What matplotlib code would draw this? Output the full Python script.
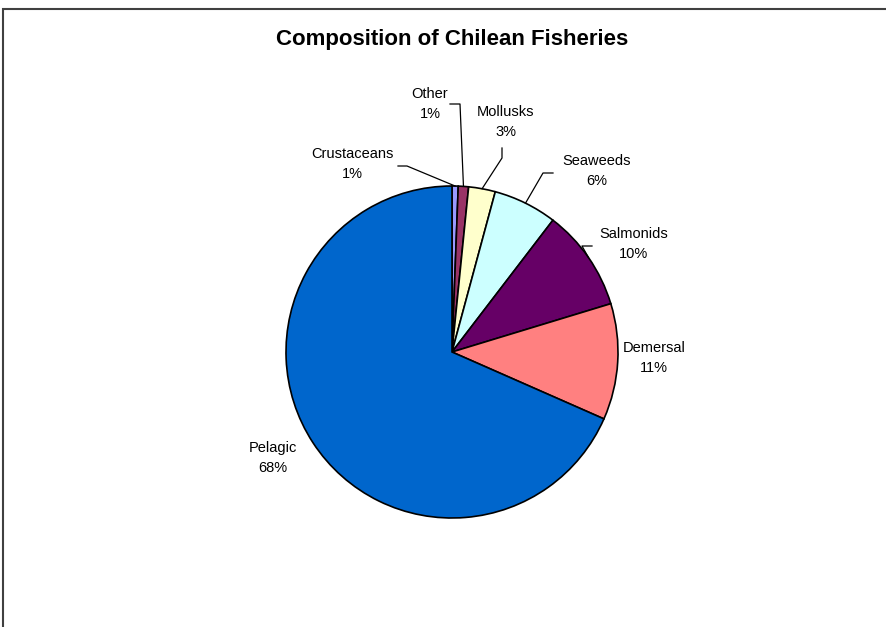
import matplotlib
matplotlib.use('Agg')
import matplotlib.pyplot as plt
import numpy as np
from matplotlib.patches import Rectangle

categories = ['Crustaceans', 'Other', 'Mollusks', 'Seaweeds', 'Salmonids', 'Demersal', 'Pelagic']
shares = [0.6, 1.0, 2.6, 6.2, 9.9, 11.3, 68.4]
colors = ['#9999FF', '#993366', '#FFFFCC', '#CCFFFF', '#660066', '#FF8080', '#0066CC']

plt.rcParams['font.family'] = ['Liberation Sans', 'DejaVu Sans']

# label block centres, offsets from pie centre in pixels (x right, y up)
label_off = {
    'Crustaceans': (-100, 188), 'Other': (-22, 248), 'Mollusks': (54, 230),
    'Seaweeds': (145, 181), 'Salmonids': (182, 108), 'Demersal': (202, -6),
    'Pelagic': (-179, -106),
}
# leader lines: start and elbow offsets; end goes to the wedge edge
leaders = {
    'Crustaceans': [(-54, 186), (-45, 186)],
    'Other': [(-2, 248), (8, 248)],
    'Mollusks': [(50, 204), (50, 194)],
    'Seaweeds': [(101, 179), (91, 179)],
    'Salmonids': [(140, 106), (130, 106)],
}

fig = plt.figure(figsize=(8.86, 6.27), dpi=100)
ax = fig.add_axes([0, 0, 1, 1])
cx, cy, r = 452, 275, 166
wedges, _ = ax.pie(shares, colors=colors, startangle=90, counterclock=False,
                   center=(cx, cy), radius=r,
                   wedgeprops=dict(edgecolor='black', linewidth=1.2))
ax.set_xlim(0, 886)
ax.set_ylim(0, 627)
ax.set_aspect('auto')
ax.axis('off')

total = sum(shares)
for name, val, w in zip(categories, shares, wedges):
    dx, dy = label_off[name]
    ax.text(cx + dx, cy + dy, f'{name}\n{round(val / total * 100):.0f}%',
            ha='center', va='center', fontsize=10.5, linespacing=1.5)
    if name in leaders:
        mid = np.deg2rad((w.theta1 + w.theta2) / 2)
        pts = [(cx + a, cy + b) for a, b in leaders[name]]
        pts.append((cx + r * np.cos(mid), cy + r * np.sin(mid)))
        xs, ys = zip(*pts)
        ax.plot(xs, ys, color='black', linewidth=0.9)

ax.text(cx, 588, 'Composition of Chilean Fisheries', ha='center', va='center',
        fontsize=16, fontweight='bold')

ax.add_patch(Rectangle((3, -10), 900, 628, fill=False, edgecolor='#404040',
                       linewidth=1.5, clip_on=False))

fig.savefig('out.png', dpi=100, facecolor='white')
